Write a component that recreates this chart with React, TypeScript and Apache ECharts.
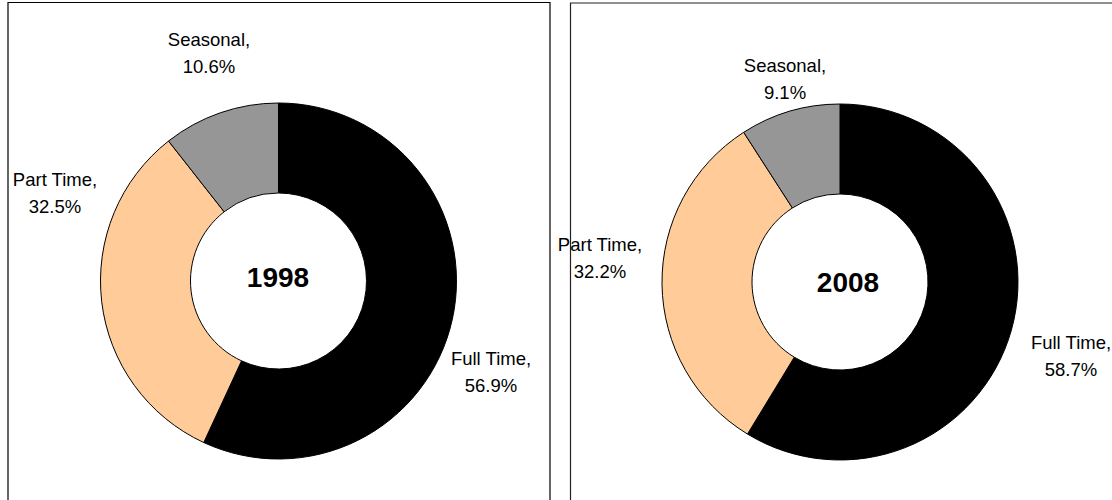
import React, { useEffect, useRef } from "react";
import * as echarts from "echarts";

const categories = ["Full Time", "Part Time", "Seasonal"];
const values1998 = [56.9, 32.5, 10.6];
const values2008 = [58.7, 32.2, 9.1];
const years = ["1998", "2008"];
const colors = ["#000000", "#FFCC99", "#969696"];

// label anchor positions (layout only)
const labelPos = [
  [[491, 372], [55, 193], [209, 53]],
  [[1071, 356], [600, 258], [785, 79]],
];
const centers = [[278.5, 281], [840, 282]];

export default function App() {
  const ref = useRef<HTMLDivElement>(null);
  useEffect(() => {
    if (!ref.current) return;
    const chart = echarts.init(ref.current, null, { renderer: "svg" });
    const mk = (vals: number[], idx: number) => ({
      type: "pie",
      center: centers[idx],
      radius: [88, 178],
      startAngle: 90,
      clockwise: true,
      percentPrecision: 1,
      avoidLabelOverlap: false,
      emphasis: { disabled: true },
      itemStyle: { borderColor: "#000", borderWidth: 1 },
      label: {
        show: true,
        position: "outside",
        formatter: "{b},\n{d}%",
        fontFamily: "Liberation Sans, Arial, sans-serif",
        fontSize: 18.5,
        lineHeight: 27,
        color: "#000",
        align: "center",
      },
      labelLine: { show: false },
      labelLayout: (p: any) => {
        const pos = labelPos[idx][p.dataIndex];
        return { x: pos[0], y: pos[1], align: "center", verticalAlign: "middle" };
      },
      data: categories.map((c, i) => ({
        name: c,
        value: vals[i],
        itemStyle: { color: colors[i] },
      })),
    });
    chart.setOption({
      animation: false,
      backgroundColor: "#fff",
      series: [mk(values1998, 0), mk(values2008, 1)],
      graphic: [
        {
          type: "rect",
          z: 100,
          silent: true,
          shape: { x: 8, y: 2.5, width: 542, height: 520 },
          style: { fill: "none", stroke: "#000", lineWidth: 1.2 },
        },
        {
          type: "rect",
          z: 100,
          silent: true,
          shape: { x: 570.5, y: 3, width: 600, height: 520 },
          style: { fill: "none", stroke: "#222", lineWidth: 1.2 },
        },
        ...years.map((y, i) => ({
          type: "text",
          z: 101,
          x: i === 0 ? 278 : 848,
          y: i === 0 ? 277 : 282,
          style: {
            text: y,
            fill: "#000",
            fontFamily: "Liberation Sans, Arial, sans-serif",
            fontWeight: "bold",
            fontSize: 28,
            textAlign: "center",
            textVerticalAlign: "middle",
          },
        })),
      ],
    });
    return () => chart.dispose();
  }, []);
  return (
    <div
      ref={ref}
      style={{ position: "fixed", left: 0, top: 0, width: 1112, height: 500 }}
    />
  );
}
